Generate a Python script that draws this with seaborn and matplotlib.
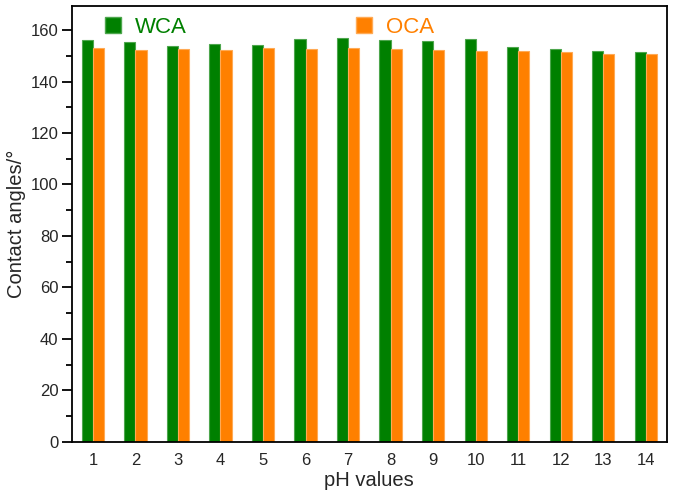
import pandas as pd
import numpy as np
import matplotlib
matplotlib.use("Agg")
import matplotlib.pyplot as plt
import seaborn as sns
from matplotlib.patches import Patch
from matplotlib.ticker import MultipleLocator

ph = [str(i) for i in range(1, 15)]
wca = [156.2, 155.3, 153.9, 154.7, 154.3, 156.6, 156.9, 156.2, 155.8, 156.4, 153.3, 152.8, 151.8, 151.3]
oca = [153.1, 152.4, 152.6, 152.4, 153.1, 152.6, 153.1, 152.5, 152.4, 151.7, 151.8, 151.3, 150.7, 150.6]
series = ["WCA", "OCA"]
colors = {"WCA": "#008000", "OCA": "#FF8000"}
edges = {"WCA": "#4da64d", "OCA": "#ffaa55"}

df = pd.DataFrame({
    "pH": ph * 2,
    "angle": wca + oca,
    "kind": ["WCA"] * len(ph) + ["OCA"] * len(ph),
})

sns.set_theme(style="white")
plt.rcParams["font.family"] = ["Liberation Sans", "DejaVu Sans"]

fig = plt.figure(figsize=(6.75, 4.98), dpi=100)
ax = fig.add_axes([0.1062, 0.113, 0.8818, 0.8756])

sns.barplot(data=df, x="pH", y="angle", hue="kind", palette=colors,
            width=0.52, gap=0, ax=ax, legend=False, saturation=1)

for cont, name in zip(ax.containers, series):
    for bar in cont:
        bar.set_edgecolor(edges[name])
        bar.set_linewidth(0.8)

ax.set_xlim(-0.5, 13.5)
ax.set_ylim(0, 169.5)
ax.yaxis.set_major_locator(MultipleLocator(20))
ax.yaxis.set_minor_locator(MultipleLocator(10))
ax.tick_params(axis="y", which="major", direction="out", length=7, width=1.3,
               labelsize=12, color="black", left=True, pad=2.5)
ax.tick_params(axis="y", which="minor", direction="out", length=4.5, width=1.3,
               color="black", left=True)
ax.tick_params(axis="x", which="major", direction="in", length=6, width=1.3,
               labelsize=12, color="black", bottom=True, pad=8)
for s in ax.spines.values():
    s.set_color("black")
    s.set_linewidth(1.3)

ax.set_xlabel("pH values", fontsize=14.5, labelpad=2)
ax.set_ylabel("Contact angles/°", fontsize=14.5, labelpad=3)

handles = [Patch(facecolor=colors[n], edgecolor=edges[n]) for n in series]
leg = ax.legend(handles, series, ncol=2, loc="upper left",
                bbox_to_anchor=(0.022, 1.02), frameon=False, fontsize=16,
                handlelength=0.75, handleheight=0.75, handletextpad=0.6,
                columnspacing=7.6)
for t, n in zip(leg.get_texts(), series):
    t.set_color(colors[n])

fig.savefig("out.png", dpi=100)
